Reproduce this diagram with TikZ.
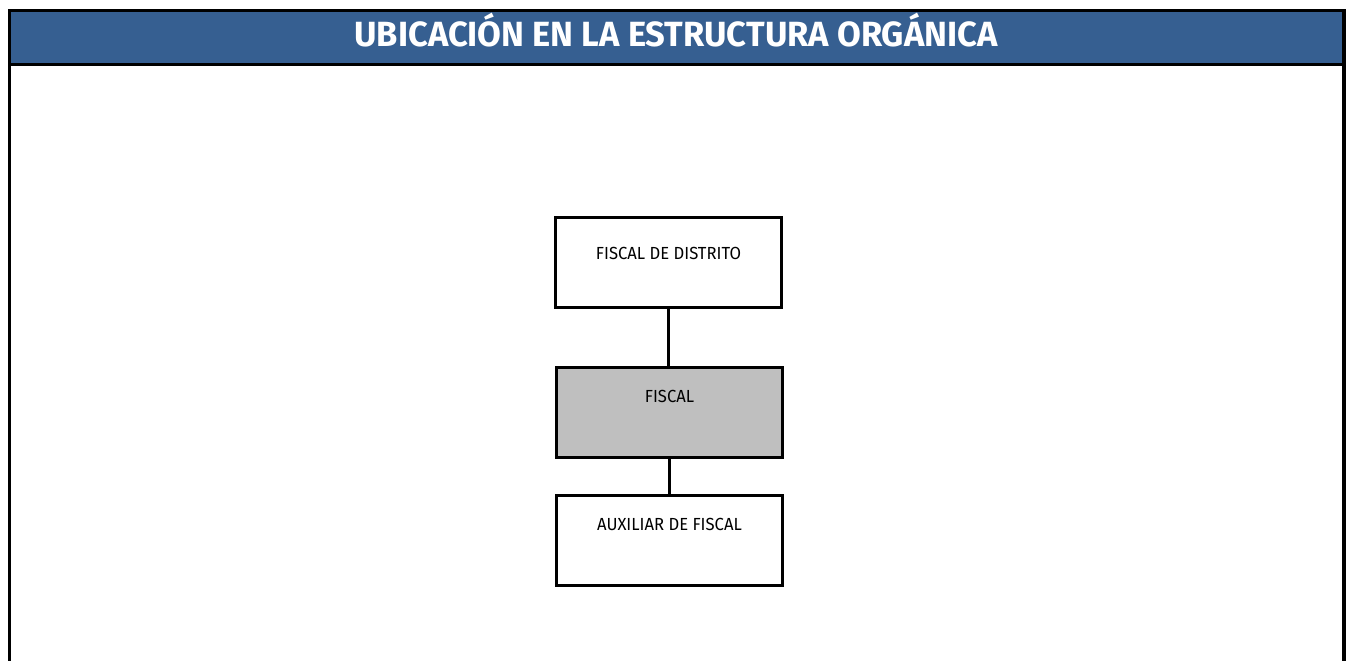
\documentclass[tikz,border=0pt]{standalone}
\usepackage{fontspec}
\setmainfont{Fira Sans}
\newfontfamily\headfont[FakeStretch=0.985]{Fira Sans Bold}
\newfontfamily\boxfont[FakeStretch=0.95]{Fira Sans}
\definecolor{headblue}{HTML}{365F91}
\definecolor{boxgray}{HTML}{BFBFBF}
\begin{document}
\begin{tikzpicture}[x=1pt,y=-1pt,
  orgbox/.style={draw=black,line width=3pt,minimum width=226pt,minimum height=90pt,inner sep=0pt},
  boxtext/.style={anchor=base,inner sep=0pt,font=\boxfont\fontsize{17.5}{20}\selectfont},
  link/.style={draw=black,line width=3pt}]
\useasboundingbox (0,0) rectangle (1347,661);
% header
\fill[headblue] (9.5,10.5) rectangle (1344,64.5);
\draw[line width=3.2pt] (9.5,661) -- (9.5,10.5) -- (1344,10.5) -- (1344,661);
\draw[line width=3.2pt] (9.5,64.5) -- (1344,64.5);
\node[anchor=base,inner sep=0pt,text=white,font=\headfont\fontsize{35}{40}\selectfont] (title) at (676,46.7) {UBICACIÓN EN LA ESTRUCTURA ORGÁNICA};
% boxes
\node[orgbox] (dist) at (668,262) {};
\node[orgbox,fill=boxgray] (fis) at (669,412) {};
\node[orgbox] (aux) at (669,540) {};
\node[boxtext] (distt) at (668.5,259.5) {FISCAL DE DISTRITO};
\node[boxtext] (fist) at (669.5,402) {FISCAL};
\node[boxtext] (auxt) at (669.5,530.5) {AUXILIAR DE FISCAL};
% connectors
\draw[link] (dist.south) -- (dist.south |- fis.north);
\draw[link] (fis.south) -- (aux.north);
\end{tikzpicture}
\end{document}
